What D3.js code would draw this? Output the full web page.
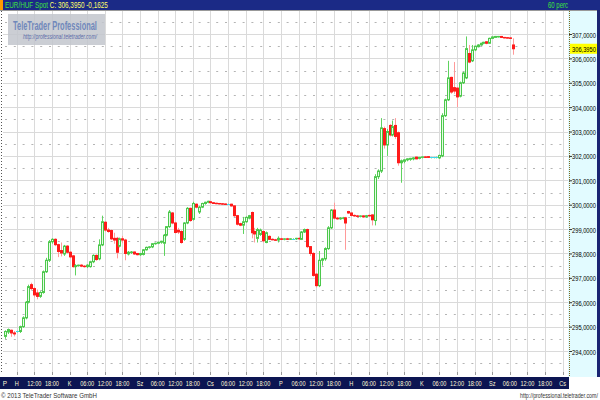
<!DOCTYPE html>
<html><head><meta charset="utf-8">
<script src="https://cdn.jsdelivr.net/npm/d3@7"></script>
<style>
html,body{margin:0;padding:0;background:#fff;}
svg{display:block;}
text{font-family:"Liberation Sans",Arial,sans-serif;}
</style></head>
<body>
<svg id="chart" width="600" height="400"></svg>
<script>
// ---- data (hourly candles, EUR/HUF) ----
const opens = [294.60,294.78,294.85,294.74,294.80,294.80,295.00,295.36,296.00,296.72,296.56,296.38,296.24,296.40,297.25,297.72,298.48,298.58,298.36,298.12,297.98,298.30,298.05,297.90,297.46,297.50,297.52,297.48,297.46,297.46,297.66,297.92,297.78,298.35,299.28,298.96,298.94,298.62,298.62,298.30,298.60,298.55,297.98,298.04,298.06,298.00,297.95,297.96,298.15,298.25,298.27,298.40,298.42,298.46,298.42,298.75,299.10,299.66,299.25,298.95,298.90,298.58,299.25,299.85,299.40,300.02,299.70,299.90,300.05,300.10,300.12,300.08,300.06,300.05,300.04,300.03,300.02,300.02,299.95,299.55,299.22,299.16,299.30,299.45,299.68,298.90,298.62,298.78,298.90,298.45,298.70,298.58,298.56,298.55,298.60,298.58,298.60,298.58,298.60,298.60,298.62,298.58,298.88,298.98,298.28,298.00,297.15,296.68,297.72,297.78,298.20,299.05,299.78,299.45,299.42,299.45,299.46,299.72,299.66,299.56,299.54,299.52,299.54,299.50,299.56,299.58,299.35,301.15,301.38,303.12,302.45,303.25,302.86,303.25,302.95,301.72,301.78,301.84,301.86,301.88,301.95,301.90,301.94,301.96,301.97,301.94,301.94,301.94,301.92,302.00,303.65,304.30,305.22,304.80,304.78,304.45,305.00,305.20,306.20,305.90,306.35,306.48,306.55,306.62,306.68,306.62,306.82,306.86,306.88,306.90,306.86,306.85,306.84,306.55];
const highs = [294.85,294.92,294.88,294.82,294.83,295.04,295.42,296.05,296.72,296.80,296.62,296.52,296.45,297.30,297.82,298.55,298.62,298.62,298.40,298.45,298.35,298.34,298.10,297.94,297.56,297.54,297.56,297.52,297.56,297.70,297.96,297.96,298.58,299.55,299.32,299.05,298.98,298.85,298.68,298.65,298.72,298.60,298.10,298.10,298.08,298.02,298.02,298.18,298.28,298.30,298.42,298.44,298.48,298.52,298.80,299.12,299.78,299.70,299.30,299.05,298.95,299.28,299.90,299.88,300.12,300.05,299.95,300.08,300.12,300.16,300.14,300.10,300.08,300.07,300.06,300.05,300.04,300.04,299.98,299.58,299.26,299.50,299.52,299.58,299.72,299.05,299.05,299.02,298.94,298.90,298.74,298.62,298.60,298.70,298.64,298.62,298.64,298.62,298.62,298.64,298.66,298.92,299.02,299.02,298.30,298.05,297.20,298.10,297.82,298.25,299.12,299.82,300.08,299.50,299.48,299.50,299.50,299.75,299.68,299.60,299.58,299.56,299.56,299.58,299.60,299.60,301.25,301.45,303.55,303.20,303.10,303.30,303.45,303.55,303.00,301.85,301.86,301.90,301.92,301.95,301.98,301.96,301.98,302.00,301.99,301.96,301.96,301.97,302.05,303.75,304.35,305.90,305.25,305.85,304.82,305.05,305.45,306.90,306.55,306.55,306.52,306.58,306.64,306.68,306.70,306.85,306.90,306.92,306.92,306.92,306.88,306.87,306.86,306.82];
const lows = [294.50,294.70,294.58,294.60,294.76,294.74,294.95,295.30,295.95,296.50,296.20,296.12,296.18,296.35,297.20,297.65,298.40,298.30,297.85,297.88,297.90,298.00,297.80,297.42,297.10,297.46,297.44,297.42,297.40,297.42,297.60,297.70,297.72,298.30,298.90,298.85,298.55,298.40,297.80,298.25,298.42,297.72,297.92,297.98,297.94,297.92,297.90,297.92,298.12,298.20,298.22,298.36,298.38,298.40,297.90,298.70,299.05,299.20,298.82,298.80,298.40,298.52,299.20,299.30,299.35,299.85,299.62,299.86,300.00,300.06,300.06,300.03,300.02,300.01,300.00,299.99,300.00,299.92,299.50,299.15,299.12,298.80,299.26,299.40,298.62,298.45,298.45,298.72,298.45,298.42,298.55,298.54,298.52,298.45,298.56,298.54,298.56,298.56,298.58,298.56,298.56,298.55,298.84,298.22,297.90,297.05,296.60,296.62,297.50,297.70,298.15,299.00,299.40,299.38,299.38,299.40,298.15,299.62,299.52,299.50,299.48,299.48,299.46,299.46,299.50,299.15,299.15,301.05,301.30,302.30,302.00,302.80,302.80,302.70,301.60,300.90,301.70,301.78,301.80,301.82,301.86,301.86,301.90,301.92,301.92,301.90,301.90,301.90,301.88,301.95,303.60,304.25,304.55,304.55,304.00,304.40,304.95,305.15,305.80,305.85,306.30,306.45,306.52,306.58,306.58,306.60,306.80,306.84,306.86,306.84,306.82,306.82,306.80,306.15];
const closes = [294.80,294.88,294.74,294.70,294.80,295.00,295.36,296.00,296.64,296.56,296.30,296.24,296.40,297.25,297.72,298.48,298.58,298.36,298.08,298.02,298.30,298.05,297.86,297.46,297.50,297.52,297.48,297.46,297.52,297.66,297.92,297.75,298.35,299.30,298.96,298.90,298.60,298.55,298.05,298.60,298.55,298.00,298.05,298.06,297.98,297.95,298.00,298.15,298.25,298.27,298.40,298.42,298.46,298.50,298.75,299.10,299.70,299.25,298.86,298.88,298.45,299.25,299.85,299.35,300.05,299.90,299.90,300.05,300.10,300.14,300.08,300.05,300.04,300.03,300.02,300.01,300.02,299.95,299.55,299.20,299.16,299.30,299.48,299.55,298.85,298.80,298.98,298.96,298.52,298.85,298.58,298.56,298.55,298.62,298.58,298.60,298.58,298.60,298.60,298.62,298.60,298.88,298.98,298.28,298.00,297.10,296.68,297.72,297.78,298.20,299.05,299.78,299.45,299.42,299.45,299.46,299.25,299.66,299.56,299.54,299.52,299.54,299.50,299.55,299.54,299.38,301.15,301.38,303.15,302.45,303.00,302.86,303.20,302.80,301.72,301.80,301.84,301.88,301.90,301.92,301.88,301.94,301.96,301.95,301.94,301.94,301.94,301.94,302.02,303.65,304.30,305.20,304.62,304.66,304.42,305.00,305.40,306.40,305.85,306.35,306.50,306.55,306.62,306.66,306.62,306.82,306.88,306.90,306.90,306.86,306.84,306.84,306.82,306.395];
const priceTicks = [294,295,296,297,298,299,300,301,302,303,304,305,306,307];
const firstDayLabel = "P";
const timeLabels = ["H","12:00","18:00","K","06:00","12:00","18:00","Sz","06:00","12:00","18:00","Cs","06:00","12:00","18:00","P","06:00","12:00","18:00","H","06:00","12:00","18:00","K","06:00","12:00","18:00","Sz","06:00","12:00","18:00","Cs"];
const titleSymbol = "EUR/HUF Spot";
const titleQuote = "C: 306,3950 -0,1625";
const lastValue = 306.395;
const periodLabel = "60 perc";

// ---- layout ----
const svg = d3.select("#chart");
const L = 3, R = 568, T = 11, B = 372;
const slotsPerTick = 6, firstTickSlot = 4;
const x = d3.scaleLinear().domain([0, 190]).range([5, 562.7]);
const y = d3.scaleLinear().domain([294, 307]).range([351, 34]);
const fmt = v => d3.format(".4f")(v).replace(".", ",");
// narrow screen font emulation: horizontal scale via transform
function narrowTo(sel, width) {
  sel.each(function(){
    const el = d3.select(this);
    const w = this.getComputedTextLength();
    const k = width / w;
    const x0 = +el.attr("x") || 0, y0 = +el.attr("y") || 0;
    el.attr("x", 0).attr("y", 0).attr("transform", `translate(${x0},${y0}) scale(${k},1)`);
  });
  return sel;
}
function narrowBy(sel, k) {
  sel.each(function(){
    const el = d3.select(this);
    const x0 = +el.attr("x") || 0, y0 = +el.attr("y") || 0;
    el.attr("x", 0).attr("y", 0).attr("transform", `translate(${x0},${y0}) scale(${k},1)`);
  });
  return sel;
}

svg.append("rect").attr("x",0).attr("y",0).attr("width",600).attr("height",400).attr("fill","#fff");

svg.append("defs").append("clipPath").attr("id","plotclip")
  .append("rect").attr("x",L).attr("y",T).attr("width",R-L).attr("height",B-T);

const grid = svg.append("g").attr("clip-path","url(#plotclip)");
const tickSlots = timeLabels.map((d,i)=> firstTickSlot + i*slotsPerTick);

grid.selectAll("line.vg").data(tickSlots).join("line")
  .attr("x1", d=>Math.round(x(d))+0.5).attr("x2", d=>Math.round(x(d))+0.5)
  .attr("y1", T).attr("y2", B).attr("stroke","#dadada").attr("stroke-width",1);
grid.selectAll("line.hg").data(priceTicks).join("line")
  .attr("x1", L).attr("x2", R)
  .attr("y1", d=>Math.round(y(d))+0.5).attr("y2", d=>Math.round(y(d))+0.5)
  .attr("stroke","#dadada").attr("stroke-width",1);
const halfLevels = d3.range(293.5, 308, 1);
grid.selectAll("line.hd").data(halfLevels).join("line")
  .attr("x1", L).attr("x2", R)
  .attr("y1", d=>Math.round(y(d))+0.5).attr("y2", d=>Math.round(y(d))+0.5)
  .attr("stroke","#b4b4b4").attr("stroke-width",1)
  .attr("stroke-dasharray","2,6.8").attr("stroke-dashoffset", -2);

// candles
const candles = opens.map((o,i)=>({i,o,h:highs[i],l:lows[i],c:closes[i]}));
const cg = svg.append("g").attr("clip-path","url(#plotclip)");
const cx = d => Math.round(x(d.i)) + 0.5;
cg.selectAll("line.wick").data(candles).join("line")
  .attr("x1", cx).attr("x2", cx)
  .attr("y1", d=>y(d.h)).attr("y2", d=>y(d.l))
  .attr("stroke", d=> d.c<d.o ? "#ff9a9a" : "#5fd35f")
  .attr("stroke-width",1);
cg.selectAll("rect.body").data(candles.filter(d=>d.c!==d.o)).join("rect")
  .attr("x", d=>cx(d)-1).attr("width",2)
  .attr("y", d=>y(Math.max(d.o,d.c)))
  .attr("height", d=>Math.max(0.5, Math.abs(y(d.o)-y(d.c))))
  .attr("fill", d=> d.c>d.o ? "#e6fbe6" : "#ff1a1a")
  .attr("stroke", d=> d.c>d.o ? "#4cc84c" : "#ff1a1a")
  .attr("stroke-width",1);
cg.selectAll("line.doji").data(candles.filter(d=>d.c===d.o)).join("line")
  .attr("x1", d=>cx(d)-1.5).attr("x2", d=>cx(d)+1.5)
  .attr("y1", d=>Math.round(y(d.c))+0.5).attr("y2", d=>Math.round(y(d.c))+0.5)
  .attr("stroke","#3fd8f0").attr("stroke-width",1);

// left dotted edge
svg.append("line").attr("x1",1.5).attr("x2",1.5).attr("y1",T).attr("y2",B)
  .attr("stroke","#555").attr("stroke-dasharray","1,2");

// logo box
const logo = svg.append("g");
logo.append("rect").attr("x",8).attr("y",14).attr("width",97).attr("height",31)
  .attr("fill","#c2c5cc").attr("fill-opacity",0.85);
narrowTo(logo.append("text").attr("x",13).attr("y",30).attr("font-size",12).attr("font-weight","bold")
  .attr("fill","#7088bb").text("TeleTrader Professional"), 84);
narrowTo(logo.append("text").attr("x",23).attr("y",39).attr("font-size",7).attr("font-style","italic")
  .attr("fill","#5a6aa8").text("http://professional.teletrader.com/"), 74);

// right axis
svg.append("rect").attr("x",R).attr("y",T).attr("width",29).attr("height",366)
  .attr("fill","#e2fbff");
svg.append("line").attr("x1",R+1.5).attr("x2",R+1.5).attr("y1",T).attr("y2",377)
  .attr("stroke","#806a20").attr("stroke-dasharray","1,1");
const yAxis = d3.axisRight(y).tickValues(priceTicks).tickSize(3).tickFormat(fmt);
const ya = svg.append("g").attr("transform",`translate(${R+1},0)`).call(yAxis);
ya.select(".domain").remove();
ya.selectAll("line").attr("stroke","#333");
ya.selectAll("text").attr("x",3).attr("y",3).attr("dy",null).attr("font-size",8).attr("fill","#000").attr("font-family",null);
narrowTo(ya.selectAll("text"), 24);
const lv = svg.append("g");
lv.append("rect").attr("x",R+2).attr("y",y(lastValue)-5).attr("width",27).attr("height",10).attr("fill","#ffff00");
narrowTo(lv.append("text").attr("x",R+4).attr("y",y(lastValue)+3).attr("font-size",8).attr("fill","#000").text(fmt(lastValue)), 24);
svg.append("rect").attr("x",597).attr("y",0).attr("width",3).attr("height",377).attr("fill","#1a2472");

// bottom axis
svg.append("rect").attr("x",0).attr("y",377).attr("width",R+1).attr("height",12).attr("fill","#0c1552");
svg.selectAll("line.bt").data(tickSlots).join("line")
  .attr("x1", d=>Math.round(x(d))+0.5).attr("x2", d=>Math.round(x(d))+0.5)
  .attr("y1", B).attr("y2", B+3).attr("stroke","#999");
narrowBy(svg.selectAll("text.bl").data(timeLabels).join("text")
  .attr("x",(d,i)=>x(tickSlots[i])).attr("y",386).attr("text-anchor","middle")
  .attr("font-size",8).attr("fill","#fff8d8").text(d=>d), 0.7);
narrowBy(svg.append("text").attr("x",x(0)).attr("y",386).attr("text-anchor","middle")
  .attr("font-size",8).attr("fill","#fff8d8").text(firstDayLabel), 0.8);

// title bar
svg.append("rect").attr("x",0).attr("y",0).attr("width",600).attr("height",10).attr("fill","#1b2a86");
svg.append("rect").attr("x",0).attr("y",0).attr("width",3).attr("height",10).attr("fill","#ff9a00");
svg.append("line").attr("x1",0).attr("x2",597).attr("y1",10.5).attr("y2",10.5).attr("stroke","#999");
const title = svg.append("text").attr("x",5).attr("y",8).attr("font-size",9);
title.append("tspan").attr("fill","#3ee03e").text(titleSymbol);
title.append("tspan").attr("fill","#ffff66").text(" " + titleQuote);
narrowTo(title, 103);
narrowTo(svg.append("text").attr("x",548).attr("y",8).attr("font-size",9)
  .attr("fill","#3ee03e").text(periodLabel), 20);

// footer
narrowTo(svg.append("text").attr("x",1).attr("y",398).attr("font-size",8).attr("fill","#333").text("© 2013 TeleTrader Software GmbH"), 96);
narrowTo(svg.append("text").attr("x",520).attr("y",398).attr("font-size",8).attr("fill","#333").text("http://professional.teletrader.com/"), 78);
</script>
</body></html>
